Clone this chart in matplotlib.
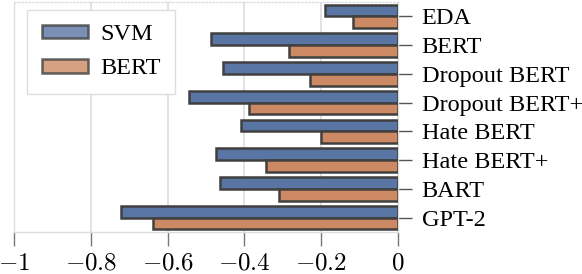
import numpy as np
import matplotlib
matplotlib.use('Agg')
import matplotlib.pyplot as plt

# data
models = ['EDA', 'BERT', 'Dropout BERT', 'Dropout BERT+', 'Hate BERT',
          'Hate BERT+', 'BART', 'GPT-2']
svm = [-0.19, -0.487, -0.456, -0.544, -0.409, -0.474, -0.464, -0.721]
bert = [-0.117, -0.284, -0.229, -0.388, -0.20, -0.344, -0.31, -0.638]
xticks = [-1, -0.8, -0.6, -0.4, -0.2, 0]
xticklabels = ['$-1$', '$-0.8$', '$-0.6$', '$-0.4$', '$-0.2$', '$0$']

plt.rcParams['font.family'] = ['Liberation Serif', 'DejaVu Serif']
plt.rcParams['mathtext.fontset'] = 'cm'

blue = '#5975a4'
orange = '#cc8963'
edge = '#404040'

fig = plt.figure(figsize=(5.82, 2.74), dpi=100)
ax = fig.add_axes([0.024, 0.153, 0.66, 0.84])

y = np.arange(len(models))
h = 0.41
ax.barh(y - h/2, svm, height=h, color=blue, edgecolor=edge, linewidth=1.8,
        label='SVM', zorder=3)
ax.barh(y + h/2, bert, height=h, color=orange, edgecolor=edge, linewidth=1.8,
        label='BERT', zorder=3)

ax.set_ylim(7.5, -0.5)
ax.set_xlim(-1, 0)
ax.set_xticks(xticks)
ax.set_xticklabels(xticklabels, fontsize=18)
ax.set_yticks(y)
ax.set_yticklabels(models, fontsize=17.5)
ax.yaxis.tick_right()
ax.tick_params(axis='y', length=10, width=1, color='#555555', pad=7)
ax.tick_params(axis='x', length=10, width=1, color='#777777', pad=5)

ax.grid(axis='x', color='#dddddd', linewidth=1.2, zorder=0)
for s in ax.spines.values():
    s.set_color('#dddddd')
    s.set_linewidth(1.0)
ax.spines['top'].set_linestyle(':')

leg = ax.legend(loc='upper left', bbox_to_anchor=(0.034, 0.967), fontsize=17.5,
                borderaxespad=0, handlelength=1.9, handleheight=0.5,
                labelspacing=0.55, handletextpad=0.5, borderpad=0.6,
                fancybox=False, edgecolor='#dddddd', framealpha=1)
for p in leg.get_patches():
    p.set_alpha(0.8)

plt.savefig('out.png', dpi=100)
